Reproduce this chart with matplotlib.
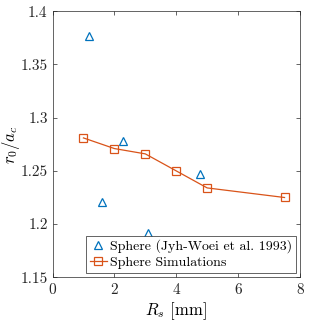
import matplotlib
matplotlib.use("Agg")
import matplotlib.pyplot as plt

plt.rcParams['font.family'] = 'serif'
plt.rcParams['font.serif'] = ['cmr10', 'DejaVu Serif']
plt.rcParams['mathtext.fontset'] = 'cm'
plt.rcParams['axes.formatter.use_mathtext'] = True

exp_R = [1.17, 1.59, 2.27, 3.1, 4.76]
exp_r = [1.377, 1.221, 1.278, 1.192, 1.247]
sim_R = [1.0, 2.0, 3.0, 4.0, 5.0, 7.5]
sim_r = [1.281, 1.271, 1.266, 1.250, 1.234, 1.225]

xticks = [0, 2, 4, 6, 8]
yticks = [1.15, 1.2, 1.25, 1.3, 1.35, 1.4]
yticklabels = ['1.15', '1.2', '1.25', '1.3', '1.35', '1.4']

fig = plt.figure(figsize=(3.32, 3.21), dpi=100)
ax = fig.add_axes([52.5/332, 1 - 277.3/321, (300-52.5)/332, (277.3-11.3)/321])

ax.plot(exp_R, exp_r, linestyle='none', marker='^', markersize=5.5,
        markerfacecolor='none', markeredgecolor='#0072BD', markeredgewidth=0.9,
        label='Sphere (Jyh-Woei et al. 1993)')
ax.plot(sim_R, sim_r, color='#D95319', linewidth=0.9, marker='s', markersize=5.5,
        markerfacecolor='none', markeredgecolor='#D95319', markeredgewidth=0.9,
        label='Sphere Simulations')

ax.set_xlim(0, 8)
ax.set_ylim(1.15, 1.4)
ax.set_xticks(xticks)
ax.set_yticks(yticks)
ax.set_yticklabels(yticklabels)
ax.tick_params(direction='in', top=True, right=True, labelsize=11,
               length=3, width=0.5, colors='#262626')
for s in ax.spines.values():
    s.set_linewidth(0.5)
    s.set_color('#262626')

ax.set_xlabel(r'$R_s$ [mm]', fontsize=12, labelpad=2)
ax.set_ylabel(r'$r_0/a_c$', fontsize=12)
ax.yaxis.set_label_coords(-0.123, 0.5)

leg = ax.legend(loc='lower right', fontsize=10, frameon=True, fancybox=False,
                edgecolor='#262626', framealpha=1, borderpad=0.3,
                handlelength=1.2, handletextpad=0.2, labelspacing=0.2,
                borderaxespad=0.3)
leg.get_frame().set_linewidth(0.5)

fig.savefig('out.png', dpi=100)
